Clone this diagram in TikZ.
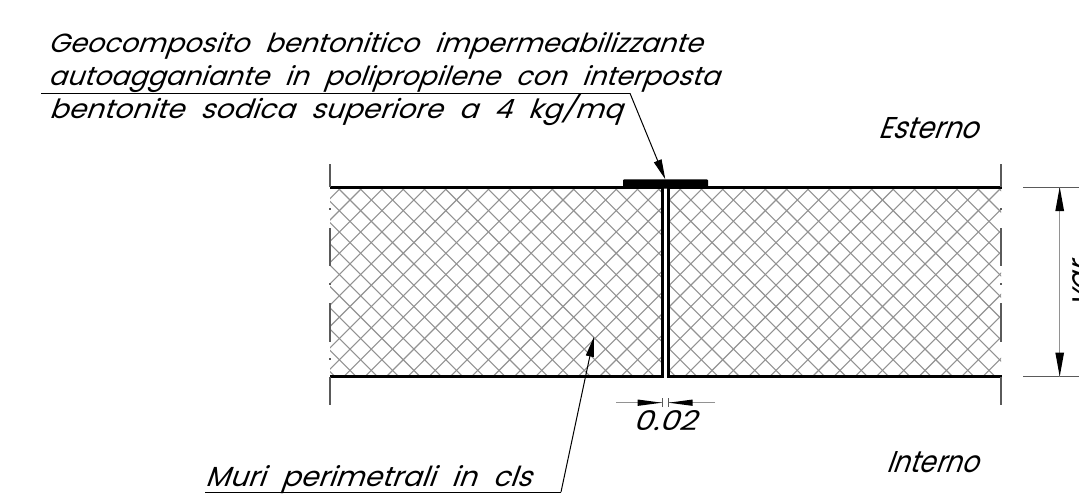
\documentclass[tikz,border=0pt]{standalone}
\usepackage{fontspec}
\usetikzlibrary{arrows.meta}
\newfontfamily\cadfont[WordSpace=2.2]{Poppins}
\definecolor{hatchgray}{HTML}{929292}
\definecolor{extgray}{HTML}{5A5A5A}
\tikzset{
  x=1pt,y=-1pt,
  wall/.style={line width=3pt,black},
  thin line/.style={line width=1pt,black},
  ext/.style={line width=1.6pt,extgray},
  hatch/.style={line width=1.1pt,hatchgray},
  leader/.style={line width=1pt,black,-{Triangle[length=20pt,width=8pt]}},
  dim/.style={line width=1.5pt,hatchgray},
  cadtext/.style={inner sep=0pt,anchor=base west,xslant=0.36,transform shape,font=\cadfont\fontsize{25}{25}\selectfont},
}
\newcommand{\fitnode}[6]{\node[cadtext] (#1) at (#2,#3) {\resizebox{#4pt}{#5pt}{#6}};}
\begin{document}
\begin{tikzpicture}
\useasboundingbox (0,0) rectangle (1079,498);
% hatch
\begin{scope}
\clip (330,188) rectangle (662,376) (669,188) rectangle (1001,376);
\foreach \k in {-30,...,80}{
  \draw[hatch] ({550+21.3*\k-400},400) -- ({550+21.3*\k-100},100);
  \draw[hatch] ({150+21.3*\k+100},100) -- ({150+21.3*\k+400},400);
}
\end{scope}
% walls
\draw[wall] (330,187.5) -- (662,187.5) (669,187.5) -- (1002,187.5);
\draw[wall] (330,376.5) -- (662.3,376.5) -- (662.3,187.5);
\draw[wall] (1002,376.5) -- (668.7,376.5) -- (668.7,187.5);
\fill[black,rounded corners=1pt] (623,179.3) rectangle (708,188.5);
% extension lines
\foreach \x in {330,1001}{
  \draw[ext] (\x,164) -- (\x,187) (\x,228) -- (\x,266) (\x,303) -- (\x,342) (\x,377) -- (\x,405);
  \draw[ext] (\x,208) -- (\x,210) (\x,283) -- (\x,285);
}
\draw[ext] (330,358) -- (330,360);
% leaders
\coordinate (la) at (41,93.3);
\coordinate (lb) at (630,93.3);
\coordinate (lc) at (665.3,179.3);
\draw[thin line] (la) -- (lb);
\draw[leader] (lb) -- (lc);
\coordinate (ma) at (205,492);
\coordinate (mb) at (561,492);
\coordinate (mc) at (594,336.7);
\draw[thin line] (ma) -- (mb);
\draw[leader] (mb) -- (mc);
% dim right
\coordinate (dt) at (1059.7,187);
\coordinate (db) at (1059.7,376.5);
\draw[thin line,extgray] (1023,187.5) -- (1079,187.5) (1023,376.5) -- (1079,376.5);
\draw[dim] (dt) -- (db);
\fill (dt) -- ++(4.4,24) -- ++(-8.8,0) -- cycle;
\fill (db) -- ++(4.4,-24) -- ++(-8.8,0) -- cycle;
% dim 0.02
\coordinate (ga) at (616,402.7);
\coordinate (gb) at (661.7,402.7);
\coordinate (gc) at (715,402.7);
\coordinate (gd) at (668.7,402.7);
\draw[dim] (ga) -- (gb) (gc) -- (gd);
\fill (gb) -- ++(-24,-3.2) -- ++(0,6.4) -- cycle;
\fill (gd) -- ++(24,-3.2) -- ++(0,6.4) -- cycle;
\draw[thin line,extgray] (662.3,398) -- (662.3,407) (668.7,398) -- (668.7,407);
% text
\fitnode{t1}{48}{52}{654}{20}{Geocomposito bentonitico impermeabilizzante}
\fitnode{t2}{48}{85}{671}{20}{autoagganiante in polipropilene con interposta}
\fitnode{t3}{49}{118}{573}{25}{bentonite sodica superiore a 4 kg/mq}
\fitnode{t4}{205}{486}{326}{21}{Muri perimetrali in cls}
\fitnode{t5}{878}{138}{100}{21}{Esterno}
\fitnode{t6}{886}{472}{92}{21}{Interno}
\fitnode{t7}{633}{430}{63}{20}{0.02}
\node[rotate=90,cadtext] (t8) at (1089,308) {\resizebox{44pt}{17pt}{var}};
\end{tikzpicture}
\end{document}
